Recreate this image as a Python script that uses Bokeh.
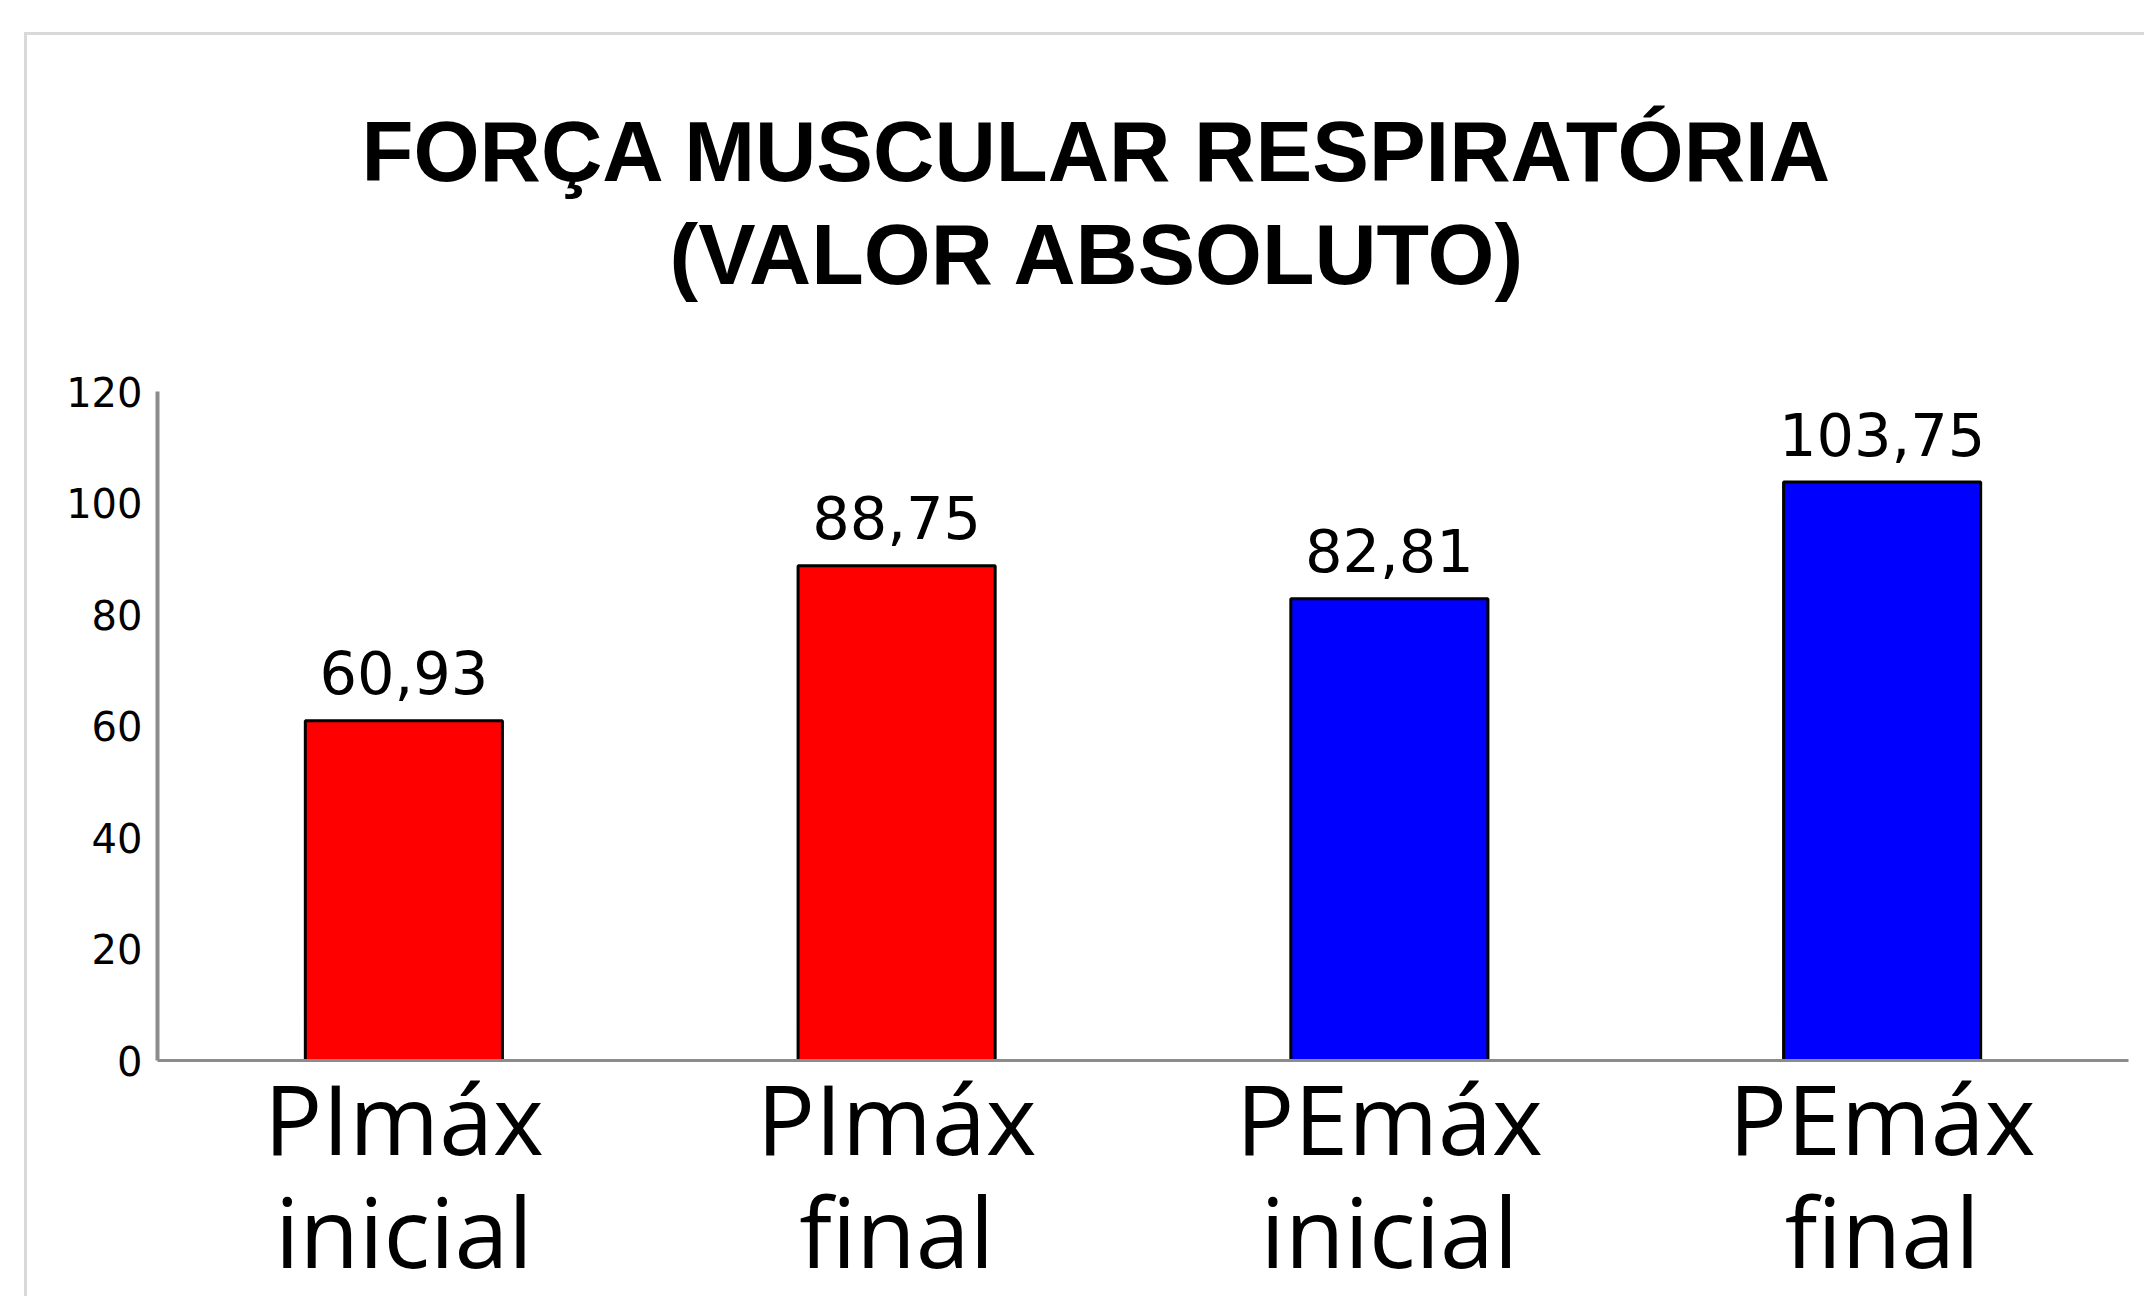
from bokeh.plotting import figure
from bokeh.models import FactorRange, Range1d, FixedTicker, Title, ColumnDataSource
from bokeh.core.properties import value
from bokeh.embed import file_html
from bokeh.resources import INLINE

# ---- data ----
categories = ["PImáx\ninicial", "PImáx\nfinal", "PEmáx\ninicial", "PEmáx\nfinal"]
values = [60.93, 88.75, 82.81, 103.75]
colors = ["#ff0000", "#ff0000", "#0000ff", "#0000ff"]
y_ticks = [0, 20, 40, 60, 80, 100, 120]
title_lines = ["FORÇA MUSCULAR RESPIRATÓRIA", "(VALOR ABSOLUTO)"]

value_labels = [f"{v:.2f}".replace(".", ",") for v in values]

W, H = 2120, 1264
p = figure(
    width=W, height=H,
    x_range=FactorRange(factors=categories, range_padding=0),
    y_range=Range1d(0, 120),
    output_backend="svg", toolbar_location=None, title_location=None,
    min_border_left=130, min_border_right=19,
    min_border_top=356, min_border_bottom=234,
)
p.margin = (32, 0, 0, 24)
p.styles = {"border-top": "3px solid #d9d9d9", "border-left": "3px solid #d9d9d9"}
p.outline_line_color = None
p.background_fill_color = "white"
p.border_fill_color = "white"
p.xgrid.visible = False
p.ygrid.visible = False

# title: spacer nearest the plot, then the second line, then the first line
title_common = dict(align="left", text_font="Liberation Sans",
                    text_font_style="bold", text_color="black")
p.add_layout(Title(text=" ", standoff=77, align="left", text_font_size="10px"), "above")
p.add_layout(Title(text=title_lines[1], standoff=0, offset=512,
                   text_font_size="86px", **title_common), "above")
p.add_layout(Title(text=title_lines[0], standoff=9, offset=204,
                   text_font_size="85px", **title_common), "above")

src = ColumnDataSource(dict(x=categories, top=values, color=colors, label=value_labels))
p.vbar(x="x", top="top", width=0.4, bottom=0, source=src,
       fill_color="color", line_color="black", line_width=3)
p.text(x="x", y="top", text="label", source=src, text_align="center",
       text_baseline="alphabetic", y_offset=-48,
       text_font=value("DejaVu Sans"), text_font_size="59px", text_color="black")

# axes
ax = p.xaxis[0]
ax.axis_line_color = "#8c8c8c"
ax.axis_line_width = 3
ax.major_tick_line_color = None
ax.minor_tick_line_color = None
ax.major_label_text_font = "Open Sans"
ax.major_label_text_font_size = "97px"
ax.major_label_text_color = "black"
ax.major_label_text_line_height = 0.86
ax.major_label_standoff = -16

ay = p.yaxis[0]
ay.ticker = FixedTicker(ticks=y_ticks)
ay.axis_line_color = "#8c8c8c"
ay.axis_line_width = 4
ay.major_tick_line_color = None
ay.minor_tick_line_color = None
ay.major_label_text_font = "DejaVu Sans"
ay.major_label_text_font_size = "40px"
ay.major_label_text_color = "black"
ay.major_label_standoff = 9

open("out.html", "w").write(file_html(p, INLINE))
